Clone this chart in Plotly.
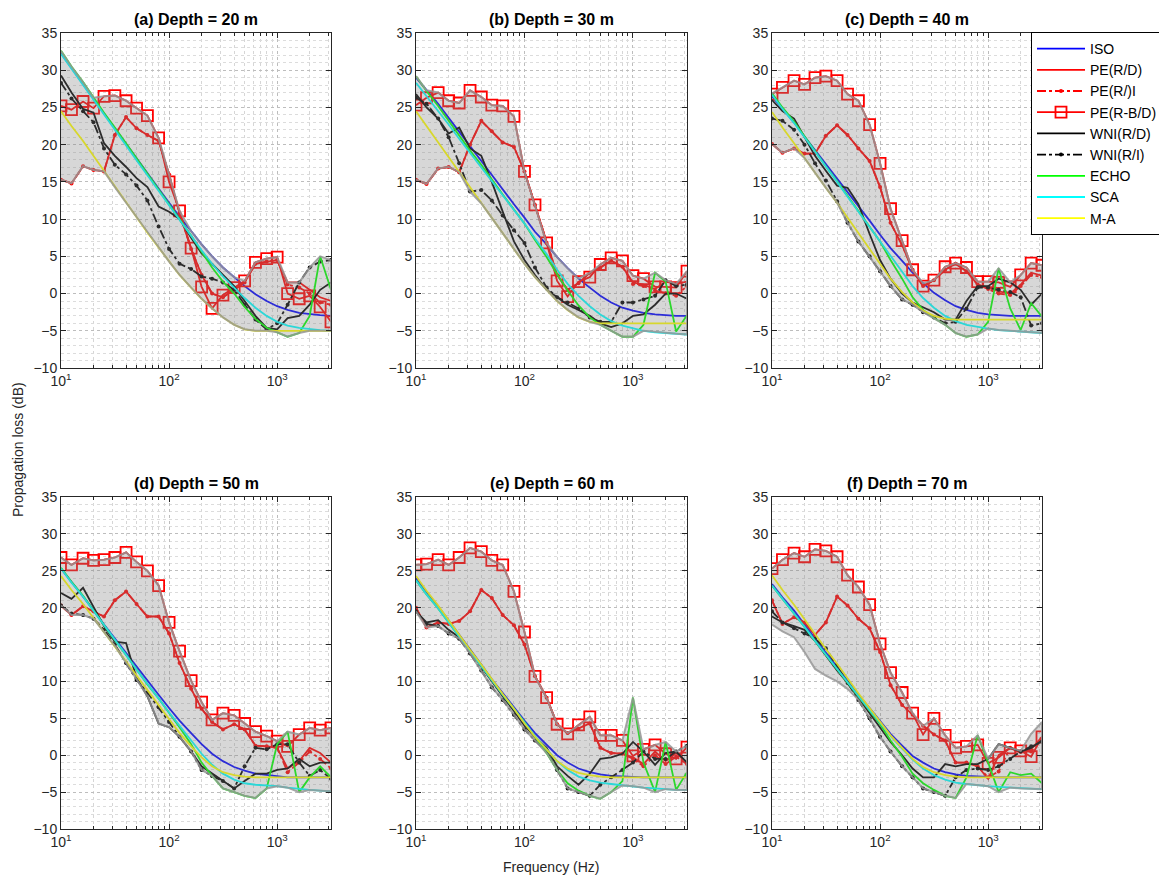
import math
import plotly.graph_objects as go

# ---------------- data ----------------
FREQ = [10, 12.5, 16, 20, 25, 31.5, 40, 50, 63, 80, 100, 125, 160, 200, 250,
        315, 400, 500, 630, 800, 1000, 1250, 1600, 2000, 2500, 3150]

TITLES = ["(a) Depth = 20 m", "(b) Depth = 30 m", "(c) Depth = 40 m",
          "(d) Depth = 50 m", "(e) Depth = 60 m", "(f) Depth = 70 m"]

SERIES_NAMES = ["ISO", "PE(R/D)", "PE(R/)I", "PE(R-B/D)", "WNI(R/D)", "WNI(R/I)", "ECHO", "SCA", "M-A"]

# Depth 20 m
ISO_20 = [32.3, 30.3, 28.2, 26.2, 24.2, 22.2, 20.1, 18.1, 16.1, 14.1, 12.2, 10.3, 8.4, 6.6, 5.0, 3.5, 2.2, 1.0, -0.1, -1.0, -1.7, -2.2, -2.6, -2.8, -2.9, -3.0]
PE_RD_20 = [15.3, 14.8, 17.1, 16.6, 16.4, 21.3, 23.7, 22.2, 21.3, 20.5, 16.0, 10.8, 6.0, 2.5, 0.0, -0.5, 0.5, 1.5, 4.0, 4.3, 4.5, 1.5, 1.5, 0.5, -0.5, -1.0]
PE_RI_20 = [15.3, 14.8, 17.1, 16.6, 16.4, 21.3, 23.7, 22.2, 21.3, 20.5, 16.0, 10.8, 6.0, 2.5, 0.0, -0.5, 0.5, 1.5, 4.0, 4.3, 4.5, 1.2, 0.8, 0.0, -1.2, -1.5]
PE_RB_20 = [25.2, 24.7, 25.8, 24.9, 26.5, 26.6, 25.9, 24.9, 23.9, 20.9, 15.0, 11.1, 6.1, 0.9, -2.0, -0.2, 0.8, 1.7, 4.2, 4.7, 4.9, 0.0, -0.7, -0.3, -1.8, -3.8]
WNI_RD_20 = [29.3, 27.0, 24.8, 24.3, 20.2, 18.5, 17.0, 15.5, 14.3, 11.7, 11.0, 10.0, 7.5, 5.4, 4.0, 2.5, 1.0, -1.0, -3.0, -4.6, -4.8, -3.3, -3.0, -1.5, 0.5, 1.5]
WNI_RI_20 = [28.3, 26.2, 24.5, 23.0, 19.5, 17.3, 16.0, 14.5, 12.5, 9.0, 6.0, 4.0, 3.3, 2.3, 2.0, 1.5, 0.5, -1.5, -3.5, -4.8, -4.0, -1.5, 1.5, 3.5, 4.3, 4.5]
ECHO_20 = [32.6, 30.5, 28.4, 26.3, 24.3, 22.3, 20.2, 18.2, 16.1, 14.0, 12.0, 10.0, 7.8, 5.6, 3.5, 1.6, 0.0, -1.8, -3.4, -4.6, -5.2, -5.8, -5.3, -3.0, 5.0, 0.5]
SCA_20 = [32.2, 30.2, 28.1, 26.0, 24.0, 22.0, 19.9, 17.9, 15.9, 13.8, 11.8, 9.8, 7.8, 5.8, 4.0, 2.3, 0.8, -0.6, -1.9, -3.0, -3.8, -4.3, -4.6, -4.8, -4.9, -5.0]
MA_20 = [24.5, 22.5, 20.5, 18.5, 16.4, 14.3, 12.2, 10.2, 8.2, 6.2, 4.3, 2.5, 0.8, -0.7, -2.0, -3.2, -4.2, -4.8, -5.0, -5.0, -5.0, -5.0, -5.0, -5.0, -5.0, -5.0]

# Depth 30 m
ISO_30 = [29.0, 27.3, 25.5, 23.6, 21.8, 19.8, 17.8, 15.9, 14.0, 12.0, 10.2, 8.3, 6.6, 4.9, 3.4, 2.0, 0.8, -0.3, -1.2, -1.9, -2.3, -2.6, -2.8, -2.9, -3.0, -3.0]
PE_RD_30 = [15.3, 14.7, 16.8, 17.0, 16.3, 20.0, 23.2, 21.8, 20.3, 19.7, 16.4, 11.9, 6.8, 2.5, 0.5, 1.4, 2.8, 3.5, 4.4, 3.6, 1.5, 1.2, 0.6, 1.6, 1.3, 1.6]
PE_RI_30 = [15.3, 14.7, 16.8, 17.0, 16.3, 20.0, 23.2, 21.8, 20.3, 19.7, 16.4, 11.9, 6.8, 2.5, 0.5, 1.4, 2.8, 3.5, 4.4, 3.6, 1.3, 1.0, 0.4, 0.0, -0.3, 1.0]
PE_RB_30 = [25.3, 26.3, 27.0, 25.9, 25.6, 27.3, 26.4, 25.3, 25.2, 23.8, 16.4, 11.9, 6.8, 1.7, -0.4, 1.6, 2.2, 3.9, 4.8, 4.4, 2.4, 2.0, 0.9, 0.9, 0.8, 3.0]
WNI_RD_30 = [26.8, 25.0, 23.5, 21.5, 22.3, 19.5, 18.5, 15.0, 11.0, 7.0, 4.5, 2.5, 0.5, -0.5, -1.5, -2.2, -3.0, -4.0, -4.5, -4.0, -3.0, -2.8, -1.5, 0.0, 0.0, -0.7]
WNI_RI_30 = [26.3, 25.5, 23.5, 21.0, 17.5, 13.7, 13.9, 12.5, 10.5, 8.5, 6.8, 3.5, 0.8, -0.5, -1.2, -2.0, -3.2, -3.8, -3.8, -1.2, -1.2, -0.8, -0.3, 1.8, 1.0, 1.2]
ECHO_30 = [29.2, 27.2, 25.2, 23.2, 21.2, 19.2, 17.3, 15.3, 13.3, 11.3, 9.4, 7.2, 4.9, 2.6, 0.4, -1.6, -3.2, -4.2, -5.0, -5.8, -5.8, -4.2, 2.8, 1.6, -5.1, -2.9]
SCA_30 = [28.3, 26.5, 24.6, 22.7, 20.8, 18.9, 17.0, 15.1, 13.2, 11.3, 9.4, 7.4, 5.3, 3.2, 1.3, -0.3, -1.7, -2.8, -3.7, -4.3, -4.7, -5.0, -5.2, -5.3, -5.4, -5.5]
MA_30 = [24.5, 22.5, 20.3, 18.3, 16.3, 14.2, 12.1, 10.1, 8.0, 6.0, 4.0, 2.2, 0.5, -1.0, -2.2, -3.2, -3.8, -4.0, -4.0, -4.0, -4.0, -4.0, -4.0, -4.0, -4.0, -4.0]

# Depth 40 m
ISO_40 = [26.5, 24.8, 23.0, 21.1, 19.3, 17.4, 15.5, 13.6, 11.7, 9.8, 7.9, 6.1, 4.4, 2.8, 1.4, 0.1, -0.9, -1.7, -2.2, -2.6, -2.8, -2.9, -3.0, -3.0, -3.0, -3.0]
PE_RD_40 = [20.1, 18.9, 19.5, 18.8, 18.8, 21.2, 22.6, 21.3, 19.5, 17.8, 14.3, 9.5, 6.5, 3.2, 1.0, 1.8, 3.2, 4.0, 3.0, 1.2, 0.8, 0.3, 0.0, 1.2, 2.8, 2.4]
PE_RI_40 = [20.1, 18.9, 19.5, 18.8, 18.8, 21.2, 22.6, 21.3, 19.5, 17.8, 14.3, 9.5, 6.5, 3.2, 1.0, 1.8, 3.2, 4.0, 3.0, 1.2, 0.6, 0.0, -0.2, 1.0, 2.5, 2.2]
PE_RB_40 = [26.8, 27.7, 28.6, 28.1, 29.0, 29.2, 28.6, 26.8, 25.9, 22.7, 17.5, 11.4, 7.1, 3.2, 1.0, 1.8, 3.6, 4.1, 3.5, 1.6, 1.6, 1.5, 0.9, 2.5, 4.1, 3.8]
WNI_RD_40 = [26.0, 24.5, 23.5, 21.0, 18.5, 16.5, 14.5, 14.2, 12.0, 8.0, 4.5, 2.0, 0.0, -1.2, -1.8, -2.5, -3.5, -3.5, -1.0, 1.0, 1.0, 2.0, 1.5, 0.5, -1.5, 0.0]
WNI_RI_40 = [23.5, 23.2, 22.0, 20.0, 17.5, 15.2, 12.4, 9.5, 7.0, 5.0, 3.0, 1.0, -0.8, -1.5, -2.5, -3.2, -4.0, -3.8, -2.0, 0.8, 0.8, 0.5, 0.2, -0.5, -4.3, -4.0]
ECHO_40 = [26.9, 25.0, 23.1, 21.1, 19.1, 17.1, 15.1, 13.1, 11.0, 9.0, 7.0, 4.5, 2.0, -0.5, -2.2, -3.3, -4.2, -5.3, -5.8, -5.5, -3.8, 3.4, -2.0, -4.9, -1.3, -3.1]
SCA_40 = [26.7, 24.8, 22.9, 21.0, 19.0, 17.0, 15.0, 13.0, 11.0, 9.0, 7.0, 5.0, 3.0, 1.0, -0.6, -1.9, -3.0, -3.7, -4.2, -4.5, -4.7, -4.9, -5.0, -5.1, -5.2, -5.3]
MA_40 = [24.4, 22.3, 20.2, 18.2, 16.2, 14.2, 12.2, 10.2, 8.1, 6.0, 4.0, 2.0, 0.2, -1.2, -2.3, -3.0, -3.4, -3.5, -3.5, -3.5, -3.5, -3.5, -3.5, -3.5, -3.5, -3.5]

# Depth 50 m
ISO_50 = [25.3, 23.5, 21.6, 19.7, 17.7, 15.8, 13.8, 11.9, 10.0, 8.2, 6.4, 4.7, 3.0, 1.5, 0.2, -0.8, -1.6, -2.1, -2.5, -2.7, -2.9, -3.0, -3.0, -3.0, -3.0, -3.0]
PE_RD_50 = [20.3, 19.0, 20.2, 19.5, 18.8, 21.0, 22.2, 20.5, 18.8, 18.8, 16.5, 12.5, 9.0, 6.3, 4.5, 3.5, 4.2, 3.5, 1.3, 1.2, 1.0, -1.8, -0.8, 1.0, 0.3, -1.0]
PE_RI_50 = [20.3, 19.0, 20.2, 19.5, 18.8, 21.0, 22.2, 20.5, 18.8, 18.8, 16.5, 12.5, 9.0, 6.3, 4.5, 3.5, 4.2, 3.5, 1.3, 1.2, 1.0, -2.3, -1.0, 0.5, -0.5, -1.8]
PE_RB_50 = [26.8, 25.8, 26.7, 26.4, 26.5, 26.8, 27.5, 26.2, 25.0, 23.0, 18.0, 14.1, 10.1, 7.2, 4.8, 5.7, 5.4, 4.3, 3.2, 2.6, 1.9, 1.2, 2.8, 3.7, 3.4, 3.7]
WNI_RD_50 = [22.0, 21.2, 22.7, 20.0, 17.5, 15.4, 15.2, 10.5, 8.0, 4.3, 3.8, 2.5, 0.5, -1.5, -2.5, -3.5, -4.5, -3.5, -2.5, -2.5, -2.0, -1.8, -0.5, -1.5, -1.0, -1.0]
WNI_RI_50 = [20.3, 19.2, 19.0, 18.5, 17.0, 15.0, 12.5, 10.2, 8.5, 6.5, 4.5, 2.5, 0.5, -2.0, -2.8, -3.5, -4.5, -1.5, 1.0, 0.8, 1.5, 1.5, -1.0, -2.8, -2.0, -3.2]
ECHO_50 = [25.4, 23.5, 21.6, 19.6, 17.6, 15.6, 13.6, 11.6, 9.6, 7.7, 5.8, 3.8, 1.5, -1.0, -2.8, -4.5, -5.0, -5.5, -5.8, -4.5, 1.5, 3.2, -5.0, -3.0, -1.5, -3.0]
SCA_50 = [25.3, 23.4, 21.5, 19.6, 17.6, 15.6, 13.6, 11.6, 9.6, 7.7, 5.8, 4.0, 2.0, 0.2, -1.3, -2.5, -3.3, -3.8, -4.0, -4.1, -4.2, -4.4, -4.6, -4.7, -4.8, -4.9]
MA_50 = [24.3, 22.4, 20.5, 18.6, 16.7, 14.8, 12.8, 10.8, 8.8, 6.8, 4.9, 3.0, 1.2, -0.3, -1.5, -2.3, -2.7, -2.9, -3.0, -3.0, -3.0, -3.0, -3.0, -3.0, -3.0, -3.0]

# Depth 60 m
ISO_60 = [24.0, 22.1, 20.2, 18.3, 16.3, 14.3, 12.3, 10.3, 8.4, 6.5, 4.7, 3.0, 1.4, 0.0, -1.0, -1.8, -2.3, -2.6, -2.8, -2.9, -3.0, -3.0, -3.0, -3.0, -3.0, -3.0]
PE_RD_60 = [20.0, 17.3, 18.0, 17.8, 18.2, 19.5, 22.4, 21.3, 19.0, 17.6, 15.0, 10.7, 7.8, 4.2, 3.0, 3.6, 4.3, 1.0, 0.3, 0.2, -0.3, -1.2, 0.5, -0.8, 0.3, -1.0]
PE_RI_60 = [20.0, 17.3, 18.0, 17.8, 18.2, 19.5, 22.4, 21.3, 19.0, 17.6, 15.0, 10.7, 7.8, 4.2, 3.0, 3.6, 4.3, 1.0, 0.3, 0.2, -0.5, -1.5, 0.0, -1.2, -0.2, -1.2]
PE_RB_60 = [25.8, 25.9, 26.5, 25.8, 26.8, 28.1, 27.6, 26.4, 25.8, 22.2, 16.7, 10.7, 7.8, 4.2, 2.9, 4.1, 5.2, 2.7, 2.7, 2.0, -0.1, 0.8, 1.4, 0.2, -0.5, 1.1]
WNI_RD_60 = [19.5, 18.0, 18.3, 17.0, 16.0, 14.3, 12.0, 10.0, 8.0, 6.0, 4.0, 2.5, 1.0, -1.5, -2.8, -4.0, -2.5, -0.5, -0.3, 0.2, 1.8, 0.5, -1.3, 0.3, 0.5, -1.0]
WNI_RI_60 = [19.5, 17.8, 17.5, 16.5, 15.8, 13.8, 11.5, 9.2, 7.5, 5.5, 3.5, 2.0, 0.5, -2.0, -4.5, -5.0, -5.5, -4.0, -3.0, -2.0, -1.0, 0.5, -0.5, -0.5, 0.5, 1.3]
ECHO_60 = [23.7, 21.8, 19.9, 18.0, 16.1, 14.1, 12.1, 10.1, 8.2, 6.3, 4.5, 2.5, 0.3, -2.0, -3.8, -4.8, -5.5, -5.9, -5.0, -3.5, 7.8, -1.0, -5.0, 1.8, -4.7, -2.3]
SCA_60 = [23.7, 21.8, 19.9, 18.0, 16.1, 14.1, 12.1, 10.1, 8.2, 6.3, 4.5, 2.6, 0.8, -0.8, -2.0, -2.9, -3.4, -3.7, -3.9, -4.1, -4.2, -4.4, -4.5, -4.6, -4.7, -4.7]
MA_60 = [24.3, 22.3, 20.3, 18.3, 16.3, 14.3, 12.3, 10.3, 8.3, 6.3, 4.3, 2.5, 0.7, -0.8, -1.8, -2.4, -2.7, -2.9, -3.0, -3.0, -3.0, -3.0, -3.0, -3.0, -3.0, -3.0]

# Depth 70 m
ISO_70 = [23.2, 21.4, 19.6, 17.7, 15.8, 13.9, 12.0, 10.1, 8.2, 6.4, 4.6, 2.9, 1.3, -0.1, -1.0, -1.8, -2.3, -2.6, -2.8, -2.9, -3.0, -3.0, -3.0, -3.0, -3.0, -3.0]
PE_RD_70 = [21.0, 17.8, 18.7, 18.0, 16.3, 18.0, 21.5, 20.3, 18.5, 17.2, 14.0, 9.5, 6.8, 5.5, 4.0, 2.8, 2.0, -1.0, -1.0, -1.5, -3.2, 0.0, 1.0, 0.3, 0.8, 2.5]
PE_RI_70 = [21.0, 17.8, 18.7, 18.0, 16.3, 18.0, 21.5, 20.3, 18.5, 17.2, 14.0, 9.5, 6.8, 5.5, 4.0, 2.8, 2.0, -1.0, -1.0, -1.5, -3.0, -2.2, 1.0, 0.5, 0.5, 2.2]
PE_RB_70 = [25.3, 26.5, 27.4, 26.9, 27.9, 27.7, 26.9, 24.4, 22.8, 20.4, 15.1, 11.2, 8.5, 5.7, 2.8, 5.0, 2.7, 1.0, 1.2, 1.4, -1.1, -0.3, 1.0, 0.6, -0.2, 2.5]
WNI_RD_70 = [18.8, 18.0, 17.5, 17.0, 15.5, 13.5, 11.5, 9.8, 7.8, 5.8, 3.8, 1.8, 0.0, -1.8, -3.0, -3.0, -1.2, -1.5, -1.2, -1.2, -0.5, 1.5, 1.0, 0.5, 1.0, 2.0]
WNI_RI_70 = [19.5, 18.0, 17.2, 16.5, 15.8, 14.5, 12.0, 9.8, 7.5, 5.0, 2.5, 0.5, -1.5, -3.0, -4.5, -5.0, -5.5, -3.0, -2.0, -1.8, -2.0, -1.5, -0.5, 0.5, 1.2, 1.8]
ECHO_70 = [23.0, 21.2, 19.3, 17.4, 15.5, 13.6, 11.7, 9.8, 7.9, 6.0, 4.2, 2.0, -0.2, -2.5, -3.8, -4.7, -5.5, -5.8, -3.0, 2.7, -1.0, -5.0, -2.3, -2.7, -2.5, -3.8]
SCA_70 = [23.0, 21.2, 19.3, 17.4, 15.5, 13.6, 11.7, 9.8, 7.9, 6.1, 4.4, 2.6, 0.9, -0.6, -1.8, -2.7, -3.3, -3.7, -3.9, -4.1, -4.2, -4.3, -4.4, -4.5, -4.6, -4.6]
MA_70 = [24.4, 22.4, 20.4, 18.4, 16.4, 14.4, 12.4, 10.4, 8.4, 6.4, 4.5, 2.7, 1.0, -0.5, -1.6, -2.3, -2.7, -2.9, -3.0, -3.0, -3.0, -3.0, -3.0, -3.0, -3.0, -3.0]
# extra envelope bounds (range of models) where it extends beyond the plotted curves
ENV_LO_EXTRA_70 = [17.7, 16.8, 16.0, 14.0, 11.7, 10.8, 10.0, 9.0, 7.8, 6.0, 4.3] + [None] * 15
ENV_HI_EXTRA_70 = [None] * 24 + [2.9, 4.5]

DEPTH_SERIES = [
    [ISO_20, PE_RD_20, PE_RI_20, PE_RB_20, WNI_RD_20, WNI_RI_20, ECHO_20, SCA_20, MA_20],
    [ISO_30, PE_RD_30, PE_RI_30, PE_RB_30, WNI_RD_30, WNI_RI_30, ECHO_30, SCA_30, MA_30],
    [ISO_40, PE_RD_40, PE_RI_40, PE_RB_40, WNI_RD_40, WNI_RI_40, ECHO_40, SCA_40, MA_40],
    [ISO_50, PE_RD_50, PE_RI_50, PE_RB_50, WNI_RD_50, WNI_RI_50, ECHO_50, SCA_50, MA_50],
    [ISO_60, PE_RD_60, PE_RI_60, PE_RB_60, WNI_RD_60, WNI_RI_60, ECHO_60, SCA_60, MA_60],
    [ISO_70, PE_RD_70, PE_RI_70, PE_RB_70, WNI_RD_70, WNI_RI_70, ECHO_70, SCA_70, MA_70],
]
EXTRA_LO = [None, None, None, None, None, ENV_LO_EXTRA_70]
EXTRA_HI = [None, None, None, None, None, ENV_HI_EXTRA_70]

# ---------------- styles ----------------
STYLES = [
    dict(color="#0000ff", dash="solid", mode="lines", marker=None),
    dict(color="#ff0000", dash="solid", mode="lines", marker=None),
    dict(color="#ff0000", dash="dashdot", mode="lines+markers", marker=dict(symbol="circle", size=4)),
    dict(color="#ff0000", dash="solid", mode="lines+markers", marker=dict(symbol="square-open", size=11, line=dict(width=1.8))),
    dict(color="#000000", dash="solid", mode="lines", marker=None),
    dict(color="#000000", dash="dashdot", mode="lines+markers", marker=dict(symbol="circle", size=4)),
    dict(color="#00ff00", dash="solid", mode="lines", marker=None),
    dict(color="#00ffff", dash="solid", mode="lines", marker=None),
    dict(color="#ffff00", dash="solid", mode="lines", marker=None),
]

# the page places the figure 8 px from the window's top-left corner,
# so layout positions below are window pixels minus that offset
OFF = 8
W, H = 1167 - OFF, 878 - OFF
XDOM = [(61, 331), (416, 687), (772, 1042)]
YDOM = [(33, 368), (497, 829)]


def px_x(v):
    return (v - OFF) / W


def px_y(v):
    return 1 - (v - OFF) / H


FONT = "Liberation Sans, Arial, Helvetica, sans-serif"
TXT = "#262626"

fig = go.Figure()

for p in range(6):
    r, c = divmod(p, 3)
    ax = p + 1
    xref = "x" if ax == 1 else f"x{ax}"
    yref = "y" if ax == 1 else f"y{ax}"
    series = DEPTH_SERIES[p]

    for s, (name, st) in enumerate(zip(SERIES_NAMES, STYLES)):
        kw = dict(x=FREQ, y=series[s], name=name, mode=st["mode"],
                  line=dict(color=st["color"], width=1.8, dash=st["dash"]),
                  xaxis=xref, yaxis=yref, legendgroup=name, showlegend=(p == 0),
                  hoverinfo="skip")
        if st["marker"] is not None:
            m = dict(st["marker"])
            m["color"] = st["color"]
            kw["marker"] = m
        fig.add_trace(go.Scatter(**kw))

    # envelope (range across models)
    hi, lo = [], []
    for i in range(len(FREQ)):
        vals = [sr[i] for sr in series]
        h, l = max(vals), min(vals)
        if EXTRA_HI[p] is not None and EXTRA_HI[p][i] is not None:
            h = max(h, EXTRA_HI[p][i])
        if EXTRA_LO[p] is not None and EXTRA_LO[p][i] is not None:
            l = min(l, EXTRA_LO[p][i])
        hi.append(h)
        lo.append(l)
    fig.add_trace(go.Scatter(x=FREQ + FREQ[::-1], y=hi + lo[::-1], mode="lines",
                             fill="toself", fillcolor="rgba(135,135,135,0.33)",
                             line=dict(color="rgba(150,150,150,0.85)", width=2),
                             xaxis=xref, yaxis=yref, showlegend=False, hoverinfo="skip"))

    xd = XDOM[c]
    yd = YDOM[r]
    xaxis = dict(
        domain=[px_x(xd[0]), px_x(xd[1])], anchor=yref, type="log", automargin=False,
        range=[1, math.log10(3150)],
        tickvals=[10, 100, 1000], ticktext=["10<sup>1</sup>", "10<sup>2</sup>", "10<sup>3</sup>"],
        ticks="inside", ticklen=5, tickcolor=TXT, showline=True, linecolor=TXT, linewidth=1,
        mirror="allticks", showgrid=True, gridcolor="#bdbdbd", griddash="dot", gridwidth=1,
        zeroline=False, tickfont=dict(family=FONT, size=14, color=TXT),
        minor=dict(tickvals=[20, 30, 40, 50, 60, 70, 80, 90, 200, 300, 400, 500, 600, 700, 800, 900, 2000, 3000],
                   ticks="inside", ticklen=3, tickcolor=TXT, showgrid=True,
                   gridcolor="#d6d6d6", griddash="dot", gridwidth=1),
    )
    yaxis = dict(
        domain=[px_y(yd[1]), px_y(yd[0])], anchor=xref, range=[-10, 35], automargin=False,
        tickvals=[-10, -5, 0, 5, 10, 15, 20, 25, 30, 35],
        ticks="inside", ticklen=5, tickcolor=TXT, showline=True, linecolor=TXT, linewidth=1,
        mirror="allticks", showgrid=True, gridcolor="#bdbdbd", griddash="dot", gridwidth=1,
        zeroline=False, tickfont=dict(family=FONT, size=14, color=TXT),
        minor=dict(dtick=1, ticks="", showgrid=True, gridcolor="#dcdcdc", griddash="dot", gridwidth=1),
    )
    fig.layout["xaxis" if ax == 1 else f"xaxis{ax}"] = xaxis
    fig.layout["yaxis" if ax == 1 else f"yaxis{ax}"] = yaxis

    fig.add_annotation(x=px_x((xd[0] + xd[1]) / 2), y=px_y(yd[0] - 3), xref="paper", yref="paper",
                       text=f"<b>{TITLES[p]}</b>", showarrow=False, xanchor="center", yanchor="bottom",
                       font=dict(family=FONT, size=16, color="#000000"))

fig.add_annotation(x=px_x(18), y=px_y(450), xref="paper", yref="paper", text="Propagation loss (dB)",
                   textangle=-90, showarrow=False, xanchor="center", yanchor="middle",
                   font=dict(family=FONT, size=14, color=TXT))
fig.add_annotation(x=px_x(551), y=px_y(867), xref="paper", yref="paper", text="Frequency (Hz)",
                   showarrow=False, xanchor="center", yanchor="middle",
                   font=dict(family=FONT, size=14, color=TXT))

fig.update_layout(
    width=W, height=H, margin=dict(l=0, r=0, t=0, b=0, autoexpand=False),
    paper_bgcolor="white", plot_bgcolor="white",
    legend=dict(x=px_x(1163), y=px_y(32), xanchor="right", yanchor="top",
                bgcolor="white", bordercolor="#000000", borderwidth=1,
                font=dict(family=FONT, size=14, color="#000000"),
                itemwidth=48, tracegroupgap=0),
    font=dict(family=FONT),
)

fig.write_html("out.html")
